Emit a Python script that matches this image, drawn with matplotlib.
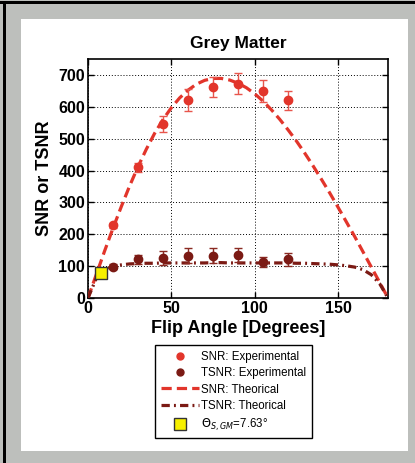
import numpy as np
import matplotlib.pyplot as plt
from matplotlib.patches import Rectangle
from matplotlib.lines import Line2D

plt.rcParams['font.family'] = ['Liberation Sans', 'DejaVu Sans']

# measured points (flip angle in degrees)
flip_exp = [15, 30, 45, 60, 75, 90, 105, 120]
snr_exp = [228, 410, 545, 622, 662, 673, 649, 620]
snr_err = [8, 15, 25, 35, 31, 34, 34, 30]
tsnr_exp = [98, 121, 127, 133, 133, 135, 114, 121]
tsnr_err = [8, 15, 22, 24, 24, 22, 16, 20]

# theoretical curves read every 5 degrees
flip_th = [0, 5, 10, 15, 20, 25, 30, 35, 40, 45, 50, 55, 60, 65, 70, 75, 80, 85,
           90, 95, 100, 105, 110, 115, 120, 125, 130, 135, 140, 145, 150, 155,
           160, 165, 170, 175, 180]
snr_th = [0, 74, 148, 219, 287, 352, 412, 467, 517, 560, 597, 628, 652, 671,
          683, 689, 689, 684, 674, 660, 641, 618, 591, 561, 528, 493, 455, 415,
          373, 330, 285, 239, 193, 145, 97, 49, 0]
tsnr_th = [0, 62, 89, 100, 104, 107, 108, 109, 109, 110, 110, 110, 110, 110,
           110, 111, 111, 110, 110, 110, 110, 110, 110, 110, 110, 109, 109, 108,
           107, 106, 104, 101, 97, 89, 73, 45, 0]

theta_s = 7.63
tsnr_at_theta = 80

red = '#e2352b'
dark = '#7b1a14'
snr_dash = (3.2, 1.6)
tsnr_dash = (2.6, 1.3, 0.6, 1.3)

fig = plt.figure(figsize=(4.15, 4.63), dpi=100, facecolor='#bdbfbc')

# white panel and black border strips, kept behind the axes
for x0, y0, w, h, c in [(21, 19, 387, 432, 'white'),
                        (0, 1, 415, 3, 'black'),
                        (3, 1, 3, 462, 'black')]:
    fig.patches.append(Rectangle((x0 / 415, 1 - (y0 + h) / 463), w / 415,
                                 h / 463, transform=fig.transFigure,
                                 facecolor=c, edgecolor='none', zorder=-10))

ax = fig.add_axes([88 / 415, 1 - 298 / 463, 300 / 415, 239 / 463])
ax.set_zorder(5)

ax.errorbar(flip_exp, snr_exp, yerr=snr_err, fmt='o', color=red, ms=6,
            ecolor='#e8554c', elinewidth=1, capsize=3, zorder=4)
ax.errorbar(flip_exp, tsnr_exp, yerr=tsnr_err, fmt='o', color=dark, ms=6,
            ecolor='#8a2a22', elinewidth=1, capsize=3, zorder=4)
ax.plot(flip_th, snr_th, color=red, lw=2.3, dashes=snr_dash, zorder=3)
ax.plot(flip_th, tsnr_th, color=dark, lw=2.3, dashes=tsnr_dash, zorder=3)
ax.plot([theta_s], [tsnr_at_theta], 's', color='#f6f000', mec='#333333',
        mew=1, ms=8, zorder=5)

ax.set_xlim(0, 180)
ax.set_ylim(0, 750)
ax.set_xticks([0, 50, 100, 150])
ax.set_yticks(range(0, 701, 100))
ax.grid(True, color='black', linestyle=(0, (1, 2)), linewidth=0.7)
ax.tick_params(direction='in', top=True, right=True, length=4, width=1,
               labelsize=11.5, pad=2)
for lbl in ax.get_xticklabels() + ax.get_yticklabels():
    lbl.set_fontweight('bold')
for sp in ax.spines.values():
    sp.set_linewidth(1.2)

ax.set_title('Grey Matter', fontsize=12.5, fontweight='bold', pad=8)
ax.set_xlabel('Flip Angle [Degrees]', fontsize=13, fontweight='bold',
              labelpad=3)
ax.set_ylabel('SNR or TSNR', fontsize=13, fontweight='bold', labelpad=4)

handles = [
    Line2D([], [], ls='none', marker='o', color=red, ms=5),
    Line2D([], [], ls='none', marker='o', color=dark, ms=5),
    Line2D([], [], color=red, lw=2.3, dashes=snr_dash),
    Line2D([], [], color=dark, lw=2.3, dashes=tsnr_dash),
    Line2D([], [], ls='none', marker='s', color='#f6f000', mec='#333333',
           mew=1, ms=8),
]
labels = ['SNR: Experimental', 'TSNR: Experimental', 'SNR: Theorical',
          'TSNR: Theorical', r'$\Theta_{S,GM}$=7.63°']
leg = ax.legend(handles, labels, loc='upper center',
                bbox_to_anchor=(0.563, 1 - 345 / 463),
                bbox_transform=fig.transFigure, fontsize=8.3, fancybox=False,
                edgecolor='black', framealpha=1, handlelength=3.3,
                handletextpad=0.2, borderpad=0.5, labelspacing=0.38,
                borderaxespad=0)
leg.get_frame().set_linewidth(1.0)

fig.savefig('out.png', dpi=100, facecolor=fig.get_facecolor())
